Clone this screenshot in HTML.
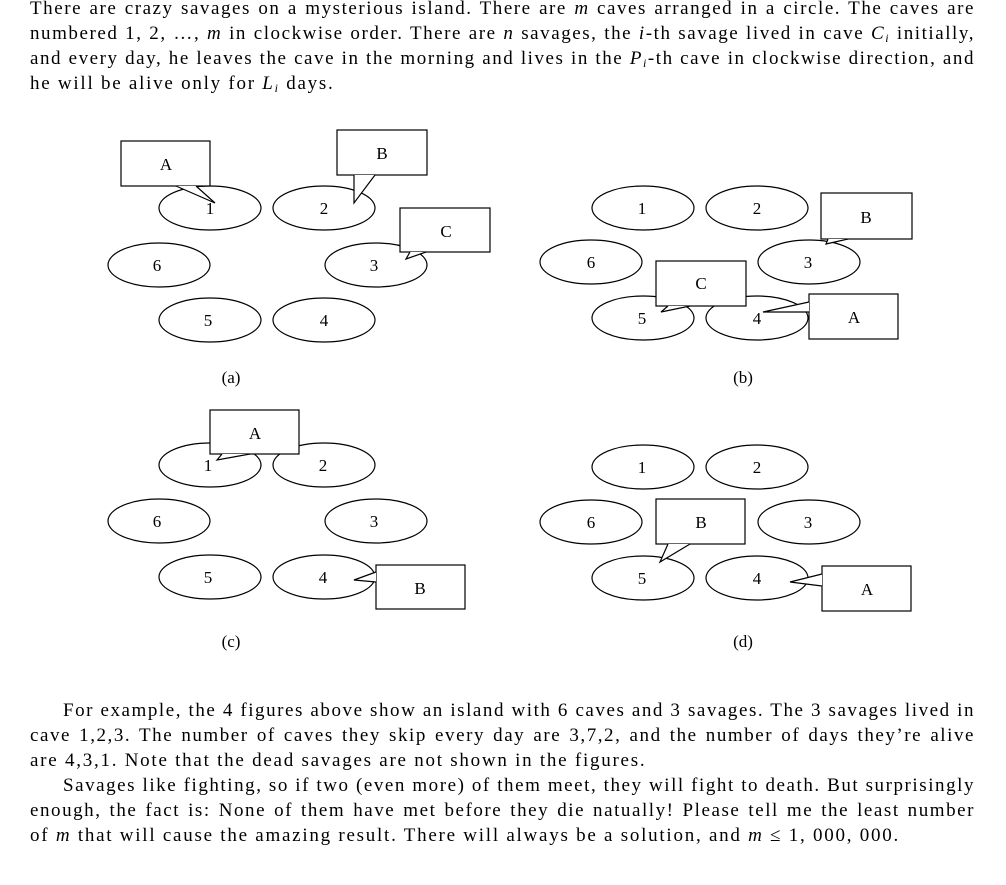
<!DOCTYPE html>
<html><head><meta charset="utf-8"><style>
body{margin:0;width:1006px;height:885px;background:#fff;position:relative;overflow:hidden;font-family:"Liberation Serif",serif;color:#000}
.l{position:absolute;left:30px;width:945px;font-size:19px;letter-spacing:1.55px;line-height:25px;white-space:nowrap;text-align:justify;text-align-last:justify}
.e{text-align-last:left;letter-spacing:1.75px}
i{font-style:italic}
sub{font-size:12px;line-height:0;vertical-align:-3px}
svg{position:absolute;left:0;top:0}
svg text{font-family:"Liberation Serif",serif;font-size:17px}
</style></head><body>
<div class="l" style="top:-4px">There are crazy savages on a mysterious island. There are <i>m</i> caves arranged in a circle. The caves are</div>
<div class="l" style="top:21px">numbered 1, 2, …, <i>m</i> in clockwise order. There are <i>n</i> savages, the <i>i</i>-th savage lived in cave <i>C<sub>i</sub></i> initially,</div>
<div class="l" style="top:46px">and every day, he leaves the cave in the morning and lives in the <i>P<sub>i</sub></i>-th cave in clockwise direction, and</div>
<div class="l e" style="top:71px">he will be alive only for <i>L<sub>i</sub></i> days.</div>

<svg width="1006" height="885" viewBox="0 0 1006 885" fill="#fff" stroke="#000" stroke-width="1.2">
<!-- (a) -->
<g>
<ellipse cx="210" cy="208" rx="51" ry="22"/><ellipse cx="324" cy="208" rx="51" ry="22"/>
<ellipse cx="159" cy="265" rx="51" ry="22"/><ellipse cx="376" cy="265" rx="51" ry="22"/>
<ellipse cx="210" cy="320" rx="51" ry="22"/><ellipse cx="324" cy="320" rx="51" ry="22"/>
<rect x="121" y="141" width="89" height="45"/><polygon points="176,186 215,203 196,186" stroke="none"/><polyline points="176,186 215,203 196,186" fill="none"/>
<rect x="337" y="130" width="90" height="45"/><polygon points="354,175 354,203 375,175" stroke="none"/><polyline points="354,175 354,203 375,175" fill="none"/>
<rect x="400" y="208" width="90" height="44"/><polygon points="410,252 406,259 426,252" stroke="none"/><polyline points="410,252 406,259 426,252" fill="none"/>
</g>
<!-- (b) -->
<g>
<ellipse cx="643" cy="208" rx="51" ry="22"/><ellipse cx="757" cy="208" rx="51" ry="22"/>
<ellipse cx="591" cy="262" rx="51" ry="22"/><ellipse cx="809" cy="262" rx="51" ry="22"/>
<ellipse cx="643" cy="318" rx="51" ry="22"/><ellipse cx="757" cy="318" rx="51" ry="22"/>
<rect x="821" y="193" width="91" height="46"/><polygon points="828,239 826,244 848,239" stroke="none"/><polyline points="828,239 826,244 848,239" fill="none"/>
<rect x="656" y="261" width="90" height="45"/><polygon points="668,306 661,312 690,306" stroke="none"/><polyline points="668,306 661,312 690,306" fill="none"/>
<rect x="809" y="294" width="89" height="45"/><polygon points="809,302 763,312 809,312" stroke="none"/><polyline points="809,302 763,312 809,312" fill="none"/>
</g>
<!-- (c) -->
<g>
<ellipse cx="210" cy="465" rx="51" ry="22"/><ellipse cx="324" cy="465" rx="51" ry="22"/>
<ellipse cx="159" cy="521" rx="51" ry="22"/><ellipse cx="376" cy="521" rx="51" ry="22"/>
<ellipse cx="210" cy="577" rx="51" ry="22"/><ellipse cx="324" cy="577" rx="51" ry="22"/>
<rect x="210" y="410" width="89" height="44"/><polygon points="222,454 217,460 250,454" stroke="none"/><polyline points="222,454 217,460 250,454" fill="none"/>
<rect x="376" y="565" width="89" height="44"/><polygon points="376,572 354,580 376,582" stroke="none"/><polyline points="376,572 354,580 376,582" fill="none"/>
</g>
<!-- (d) -->
<g>
<ellipse cx="643" cy="467" rx="51" ry="22"/><ellipse cx="757" cy="467" rx="51" ry="22"/>
<ellipse cx="591" cy="522" rx="51" ry="22"/><ellipse cx="809" cy="522" rx="51" ry="22"/>
<ellipse cx="643" cy="578" rx="51" ry="22"/><ellipse cx="757" cy="578" rx="51" ry="22"/>
<rect x="656" y="499" width="89" height="45"/><polygon points="668,544 660,562 690,544" stroke="none"/><polyline points="668,544 660,562 690,544" fill="none"/>
<rect x="822" y="566" width="89" height="45"/><polygon points="822,574 790,582 822,586" stroke="none"/><polyline points="822,574 790,582 822,586" fill="none"/>
</g>
<g fill="#000" stroke="none" text-anchor="middle">
<text x="210" y="214">1</text><text x="324" y="214">2</text><text x="157" y="271">6</text><text x="374" y="271">3</text><text x="208" y="326">5</text><text x="324" y="326">4</text>
<text x="166" y="170">A</text><text x="382" y="159">B</text><text x="446" y="237">C</text>
<text x="231" y="383" font-size="19">(a)</text>
<text x="642" y="214">1</text><text x="757" y="214">2</text><text x="591" y="268">6</text><text x="808" y="268">3</text><text x="642" y="324">5</text><text x="757" y="324">4</text>
<text x="866" y="223">B</text><text x="701" y="289">C</text><text x="854" y="323">A</text>
<text x="743" y="383" font-size="19">(b)</text>
<text x="208" y="471">1</text><text x="323" y="471">2</text><text x="157" y="527">6</text><text x="374" y="527">3</text><text x="208" y="583">5</text><text x="323" y="583">4</text>
<text x="255" y="439">A</text><text x="420" y="594">B</text>
<text x="231" y="647" font-size="19">(c)</text>
<text x="642" y="473">1</text><text x="757" y="473">2</text><text x="591" y="528">6</text><text x="808" y="528">3</text><text x="642" y="584">5</text><text x="757" y="584">4</text>
<text x="701" y="528">B</text><text x="867" y="595">A</text>
<text x="743" y="647" font-size="19">(d)</text>
</g>
</svg>

<div class="l" style="top:698px;left:63px;width:912px">For example, the 4 figures above show an island with 6 caves and 3 savages. The 3 savages lived in</div>
<div class="l" style="top:723px">cave 1,2,3. The number of caves they skip every day are 3,7,2, and the number of days they’re alive</div>
<div class="l e" style="top:748px">are 4,3,1. Note that the dead savages are not shown in the figures.</div>
<div class="l" style="top:773px;left:63px;width:912px">Savages like fighting, so if two (even more) of them meet, they will fight to death. But surprisingly</div>
<div class="l" style="top:798px">enough, the fact is: None of them have met before they die natually! Please tell me the least number</div>
<div class="l e" style="top:823px">of <i>m</i> that will cause the amazing result. There will always be a solution, and <i>m</i> ≤ 1, 000, 000.</div>
</body></html>
